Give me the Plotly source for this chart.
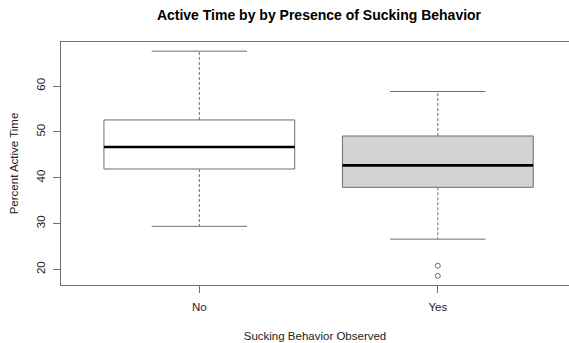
import plotly.graph_objects as go

# Five-number summaries per group (percent active time)
groups = ["No", "Yes"]
positions = [1, 2]
lower_whisker = [29.4, 26.6]
q1 = [41.9, 37.9]
median = [46.7, 42.7]
q3 = [52.6, 49.1]
upper_whisker = [67.6, 58.8]
box_fill = ["white", "#D3D3D3"]

# Points beyond the whiskers (only in the "Yes" group)
outlier_group = [2, 2]
outlier_value = [20.8, 18.6]

BOX_HALF = 0.4      # half box width in axis units
CAP_HALF = 0.2      # half staple width
LINE_COL = "#6e6e6e"
TEXT_COL = "#222222"
FONT = "Liberation Sans, Arial, sans-serif"

fig = go.Figure()

for i, pos in enumerate(positions):
    # whiskers (dashed) from box edges to the extremes
    fig.add_trace(go.Scatter(
        x=[pos, pos, None, pos, pos],
        y=[q3[i], upper_whisker[i], None, q1[i], lower_whisker[i]],
        mode="lines", line=dict(color=LINE_COL, width=1, dash="3px,2px"),
        hoverinfo="skip", showlegend=False))
    # staples
    fig.add_trace(go.Scatter(
        x=[pos - CAP_HALF, pos + CAP_HALF, None, pos - CAP_HALF, pos + CAP_HALF],
        y=[upper_whisker[i], upper_whisker[i], None, lower_whisker[i], lower_whisker[i]],
        mode="lines", line=dict(color=LINE_COL, width=1),
        hoverinfo="skip", showlegend=False))
    # box body
    fig.add_trace(go.Scatter(
        x=[pos - BOX_HALF, pos + BOX_HALF, pos + BOX_HALF, pos - BOX_HALF, pos - BOX_HALF],
        y=[q1[i], q1[i], q3[i], q3[i], q1[i]],
        mode="lines", fill="toself", fillcolor=box_fill[i],
        line=dict(color=LINE_COL, width=1),
        hoverinfo="skip", showlegend=False))
    # median
    fig.add_trace(go.Scatter(
        x=[pos - BOX_HALF, pos + BOX_HALF],
        y=[median[i], median[i]],
        mode="lines", line=dict(color="black", width=2.6),
        hoverinfo="skip", showlegend=False))

fig.add_trace(go.Scatter(
    x=outlier_group, y=outlier_value, mode="markers",
    marker=dict(symbol="circle-open", size=5, color=LINE_COL, line=dict(width=1)),
    hoverinfo="skip", showlegend=False))

fig.update_layout(
    width=569, height=343,
    margin=dict(l=61, r=0, t=42, b=58),
    paper_bgcolor="white", plot_bgcolor="white",
    font=dict(family=FONT, color=TEXT_COL, size=11.5),
    title=dict(text="<b>Active Time by by Presence of Sucking Behavior</b>",
               x=0.5606, xref="container", xanchor="center",
               y=0.955, yref="container", yanchor="middle",
               font=dict(size=14, color="black", family=FONT)),
    xaxis=dict(range=[0.42, 2.55], tickvals=positions, ticktext=groups,
               showgrid=False, zeroline=False, showline=True, mirror=True,
               linecolor=LINE_COL, linewidth=1,
               ticks="outside", ticklen=7, tickcolor=LINE_COL,
               ticklabelstandoff=4,
               tickfont=dict(size=11.5, color=TEXT_COL),
               title=dict(text="Sucking Behavior Observed", standoff=20,
                          font=dict(size=11.5, color=TEXT_COL))),
    yaxis=dict(range=[16.6, 69.6], tickvals=[20, 30, 40, 50, 60],
               showgrid=False, zeroline=False, showline=True, mirror=False,
               linecolor=LINE_COL, linewidth=1,
               ticks="outside", ticklen=7, tickcolor=LINE_COL,
               ticklabelstandoff=3,
               tickangle=-90, tickfont=dict(size=11.5, color=TEXT_COL),
               title=dict(text="Percent Active Time", standoff=14,
                          font=dict(size=11.5, color=TEXT_COL))),
)

fig.write_html("out.html", config={"displayModeBar": False})
